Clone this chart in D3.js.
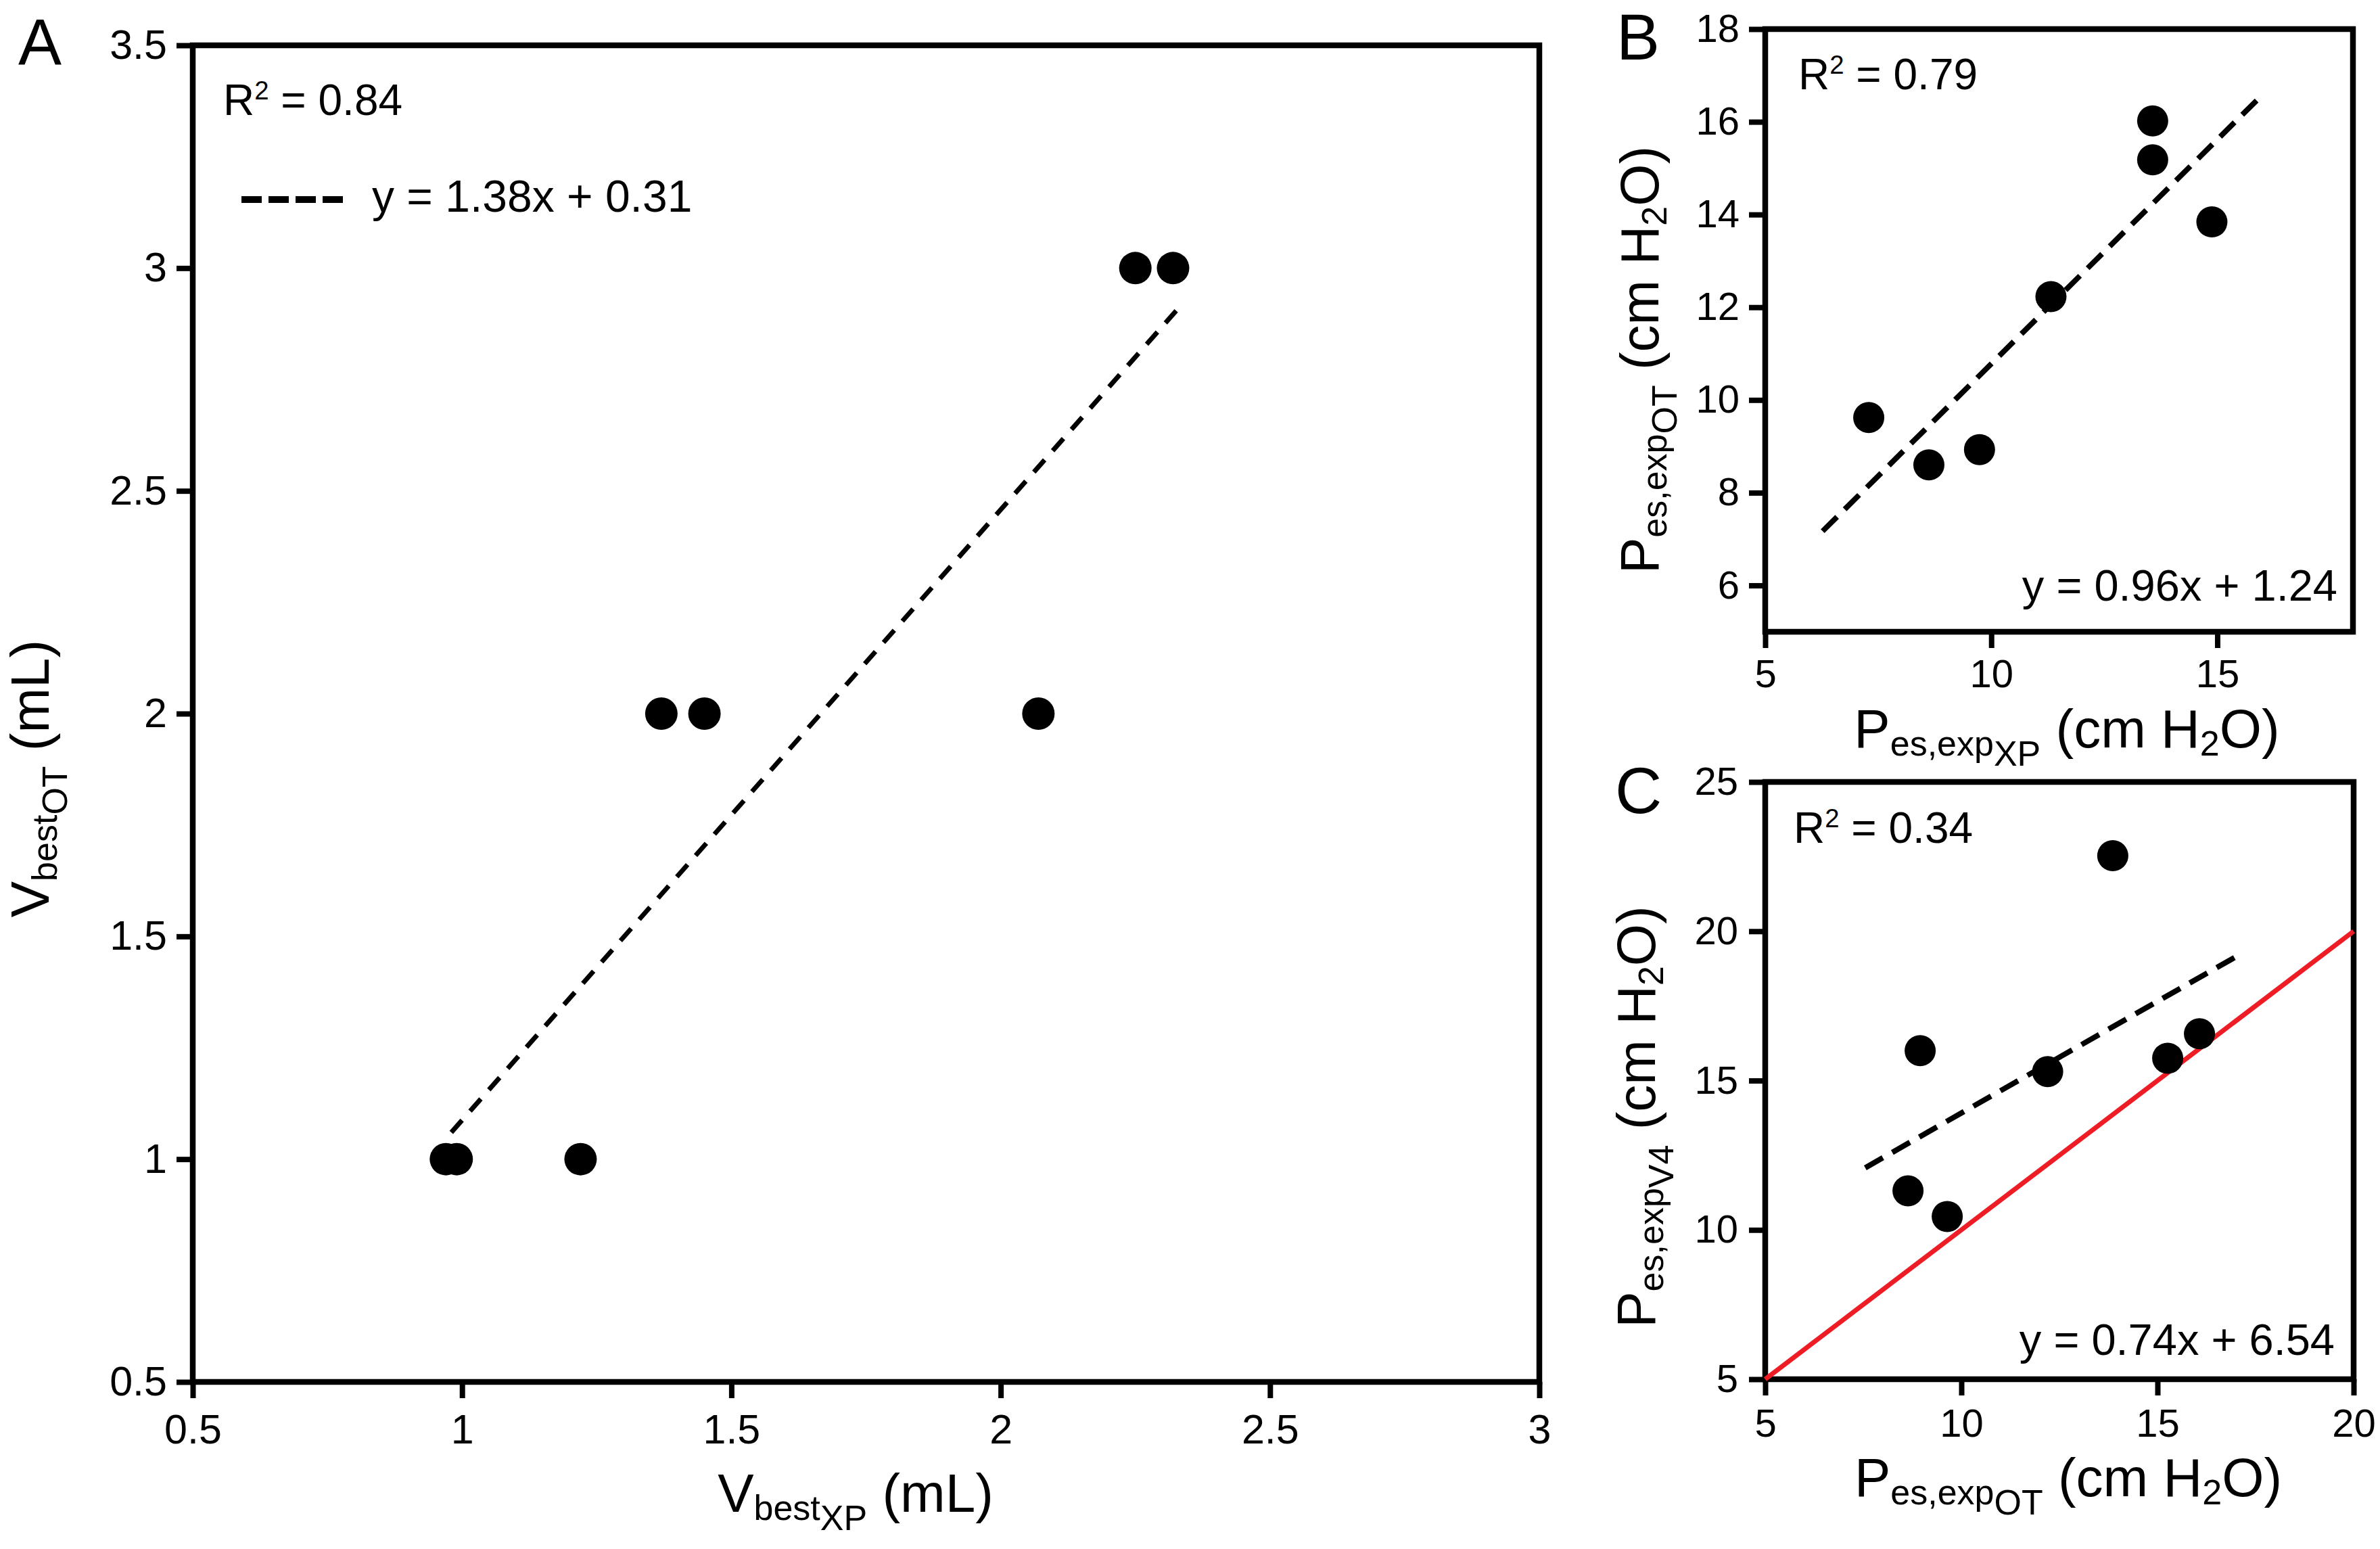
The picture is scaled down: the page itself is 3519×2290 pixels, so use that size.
<!DOCTYPE html>
<html><head><meta charset="utf-8">
<script src="https://cdn.jsdelivr.net/npm/d3@7"></script>
<style>body{margin:0;background:#fff}svg{display:block}text{font-family:"Liberation Sans",Arial,Helvetica,sans-serif;fill:#000}</style>
</head><body>
<svg id="chart" width="3519" height="2290"></svg>
<script>
// ---------- data ----------
const aX = [0.97, 0.99, 1.22, 1.37, 1.45, 2.07, 2.25, 2.32];
const aY = [1, 1, 1, 2, 2, 2, 3, 3];
const aFitX = [0.98, 2.33];
const aFitY = [1.06, 2.91];
const aTicksX = [0.5, 1, 1.5, 2, 2.5, 3];
const aTicksY = [0.5, 1, 1.5, 2, 2.5, 3, 3.5];

const bX = [7.29, 8.62, 9.74, 11.32, 13.57, 13.57, 14.88];
const bY = [9.62, 8.60, 8.93, 12.23, 16.02, 15.18, 13.84];
const bFitX = [6.27, 15.88];
const bFitY = [7.17, 16.47];
const bTicksX = [5, 10, 15];
const bTicksY = [6, 8, 10, 12, 14, 16, 18];

const cX = [8.64, 8.95, 9.64, 12.2, 13.86, 15.26, 16.07];
const cY = [11.31, 16.0, 10.45, 15.3, 22.53, 15.75, 16.57];
const cFitX = [7.55, 17.03];
const cFitY = [12.08, 19.17];
const cIdentX = [5, 20];
const cIdentY = [5, 20];
const cTicksX = [5, 10, 15, 20];
const cTicksY = [5, 10, 15, 20, 25];

const texts = {
  aR2: "0.84", aEq: "y = 1.38x + 0.31",
  bR2: "0.79", bEq: "y = 0.96x + 1.24",
  cR2: "0.34", cEq: "y = 0.74x + 6.54"
};

// ---------- drawing ----------
const svg = d3.select("#chart");
const FRAME = 8.5, TICKW = 8, TICKLEN = 24;
const fmt = d3.format("~g");

function rich(sel, parts, F) {
  // parts: [text, level] level 0 normal, 1 sub, 2 subsub, -1 sup
  const off = {0: 0, 1: 0.15 * F, 2: 0.34 * F, "-1": -0.36 * F};
  const size = {0: F, 1: 0.65 * F, 2: 0.65 * F, "-1": 0.6 * F};
  let cur = 0;
  parts.forEach(([t, l]) => {
    sel.append("tspan").attr("dy", off[l] - cur).attr("font-size", size[l]).text(t);
    cur = off[l];
  });
}

function panel(o) {
  const g = svg.append("g");
  const x = d3.scaleLinear().domain(o.xd).range(o.xr);
  const y = d3.scaleLinear().domain(o.yd).range(o.yr);

  const xa = d3.axisBottom(x).tickValues(o.tx).tickFormat(fmt).tickSize(TICKLEN).tickPadding(o.xpad).tickSizeOuter(0);
  const ya = d3.axisLeft(y).tickValues(o.ty).tickFormat(fmt).tickSize(TICKLEN).tickPadding(o.ypad).tickSizeOuter(0);
  const gx = g.append("g").attr("transform", `translate(0,${o.yr[0]})`).call(xa);
  const gy = g.append("g").attr("transform", `translate(${o.xr[0]},0)`).call(ya);
  [gx, gy].forEach(a => {
    a.select(".domain").remove();
    a.selectAll("line").attr("stroke", "#000").attr("stroke-width", TICKW);
    a.selectAll("text").attr("font-size", o.tickF).attr("fill", "#000")
      .style("font-family", '"Liberation Sans",Arial,sans-serif');
  });

  // frame
  g.append("rect").attr("x", o.xr[0]).attr("y", o.yr[1])
    .attr("width", o.xr[1] - o.xr[0]).attr("height", o.yr[0] - o.yr[1])
    .attr("fill", "none").attr("stroke", "#000").attr("stroke-width", FRAME);

  // identity line
  if (o.identX) {
    g.append("line").attr("x1", x(o.identX[0])).attr("y1", y(o.identY[0]))
      .attr("x2", x(o.identX[1])).attr("y2", y(o.identY[1]))
      .attr("stroke", "#ee1c25").attr("stroke-width", 7);
  }
  // regression line
  g.append("line").attr("x1", x(o.fitX[0])).attr("y1", y(o.fitY[0]))
    .attr("x2", x(o.fitX[1])).attr("y2", y(o.fitY[1]))
    .attr("stroke", "#000").attr("stroke-width", o.fitW).attr("stroke-dasharray", o.dash);

  // points
  g.selectAll("circle.pt").data(o.px.map((v, i) => [v, o.py[i]])).join("circle")
    .attr("class", "pt").attr("cx", d => x(d[0])).attr("cy", d => y(d[1]))
    .attr("r", o.r).attr("fill", "#000");

  // R2
  const r2 = g.append("text").attr("x", o.r2pos[0]).attr("y", o.r2pos[1]).attr("font-size", 64);
  rich(r2, [["R", 0], ["2", -1], [" = " + o.r2, 0]], 64);

  // panel letter
  g.append("text").attr("x", o.letterPos[0]).attr("y", o.letterPos[1])
    .attr("font-size", 96).text(o.letter);

  // axis titles
  const TF = 80;
  const xt = g.append("text").attr("x", o.xtPos[0]).attr("y", o.xtPos[1])
    .attr("text-anchor", "middle").attr("font-size", TF);
  rich(xt, o.xtParts, TF);
  const yt = g.append("text").attr("transform", `translate(${o.ytPos[0]},${o.ytPos[1]}) rotate(-90)`)
    .attr("text-anchor", "middle").attr("font-size", TF);
  rich(yt, o.ytParts, TF);
  return {g, x, y};
}

const H2O = [[" (cm H", 0], ["2", 1], ["O)", 0]];

// Panel A
const A = panel({
  xd: [0.5, 3], yd: [0.5, 3.5], xr: [285, 2276], yr: [2043, 67],
  tx: aTicksX, ty: aTicksY, xpad: 24, ypad: 14, tickF: 61,
  px: aX, py: aY, r: 24, fitX: aFitX, fitY: aFitY, fitW: 7, dash: "24,18",
  r2: texts.aR2, r2pos: [330, 170], letter: "A", letterPos: [27, 95],
  xtParts: [["V", 0], ["best", 1], ["XP", 2], [" (mL)", 0]], xtPos: [1265, 2235],
  ytParts: [["V", 0], ["best", 1], ["OT", 2], [" (mL)", 0]], ytPos: [72, 1151]
});
// legend in A
A.g.append("line").attr("x1", 357).attr("x2", 507).attr("y1", 295).attr("y2", 295)
  .attr("stroke", "#000").attr("stroke-width", 10).attr("stroke-dasharray", "30,10");
A.g.append("text").attr("x", 550).attr("y", 313).attr("font-size", 66).text(texts.aEq);

// Panel B
const B = panel({
  xd: [5, 18], yd: [5, 18], xr: [2610, 3479], yr: [934, 43],
  tx: bTicksX, ty: bTicksY, xpad: 17, ypad: 14, tickF: 58,
  px: bX, py: bY, r: 23, fitX: bFitX, fitY: bFitY, fitW: 8, dash: "30,16",
  r2: texts.bR2, r2pos: [2659, 132], letter: "B", letterPos: [2390, 88],
  xtParts: [["P", 0], ["es,exp", 1], ["XP", 2], ...H2O], xtPos: [3056, 1105],
  ytParts: [["P", 0], ["es,exp", 1], ["OT", 2], ...H2O], ytPos: [2452, 532]
});
B.g.append("text").attr("x", 3456).attr("y", 888).attr("text-anchor", "end")
  .attr("font-size", 65).text(texts.bEq);

// Panel C
const C = panel({
  xd: [5, 20], yd: [5, 25], xr: [2610, 3480], yr: [2039, 1156],
  tx: cTicksX, ty: cTicksY, xpad: 20, ypad: 16, tickF: 58,
  px: cX, py: cY, r: 23, fitX: cFitX, fitY: cFitY, fitW: 8, dash: "30,16",
  identX: cIdentX, identY: cIdentY,
  r2: texts.cR2, r2pos: [2652, 1246], letter: "C", letterPos: [2388, 1202],
  xtParts: [["P", 0], ["es,exp", 1], ["OT", 2], ...H2O], xtPos: [3058, 2212],
  ytParts: [["P", 0], ["es,exp", 1], ["V4", 2], ...H2O], ytPos: [2447, 1651]
});
C.g.append("text").attr("x", 3452).attr("y", 2003).attr("text-anchor", "end")
  .attr("font-size", 65).text(texts.cEq);
</script>
</body></html>
